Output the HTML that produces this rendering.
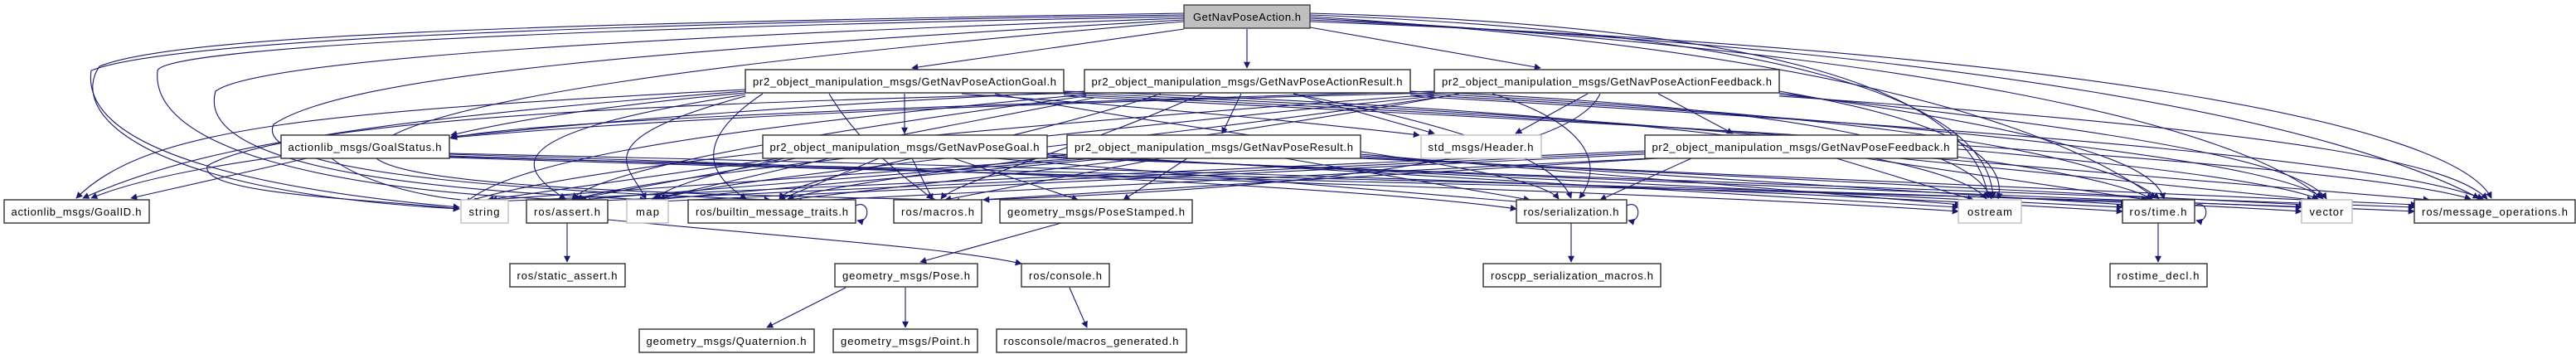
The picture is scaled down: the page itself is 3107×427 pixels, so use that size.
<!DOCTYPE html>
<html><head><meta charset="utf-8"><style>
html,body{margin:0;padding:0;background:#fff;}
svg{display:block;}
text{font-family:"Liberation Sans","DejaVu Sans",sans-serif;font-size:13px;fill:#000;}
</style></head><body>
<svg width="3107" height="427" viewBox="0 0 3107 427" xmlns="http://www.w3.org/2000/svg">
<defs>
<marker id="a" viewBox="0 0 10 10" refX="9" refY="5" markerWidth="10" markerHeight="8" markerUnits="userSpaceOnUse" orient="auto">
<path d="M0,0 L10,5 L0,10 z" fill="#191970"/></marker>
</defs>
<g fill="none" stroke="#191970" stroke-width="1.1" marker-end="url(#a)">
<!-- Action -->
<path d="M1428,35 L1100,82"/>
<path d="M1504,35 L1504,82"/>
<path d="M1580,33 L1858,82"/>
<path d="M1428,16 C700,28 220,40 120,80 C85,130 150,230 554,252"/>
<path d="M1428,18 C650,30 200,50 110,85 C95,190 350,232 554,250"/>
<path d="M1428,20 C600,35 200,60 190,85 C180,180 400,230 682,241"/>
<path d="M1428,22 C600,50 300,80 260,110 C230,215 600,232 779,241"/>
<path d="M1428,24 C800,60 420,90 330,150 C300,215 700,232 929,241"/>
<path d="M1428,26 C900,70 500,120 450,180 C430,230 900,235 1129,241"/>
<path d="M1580,16 C2100,30 2380,100 2398,239"/>
<path d="M1580,18 C2150,40 2400,120 2404,239"/>
<path d="M1580,20 C2200,60 2480,150 2600,239"/>
<path d="M1580,22 C2300,60 2700,150 2800,239"/>
<path d="M1580,24 C2400,60 2820,150 2990,239"/>
<path d="M1580,26 C2500,60 2960,150 3005,239"/>
<!-- ActionGoal -->
<path d="M1091,113 L1091,161"/>
<path d="M899,108 C400,135 180,150 92,239"/>
<path d="M899,112 C700,130 600,150 544,163"/>
<path d="M1160,113 C1400,130 1600,150 1712,163"/>
<path d="M899,110 C500,140 300,170 250,200 C240,235 450,240 554,252"/>
<path d="M899,114 C600,160 620,200 682,240"/>
<path d="M899,116 C700,170 760,200 779,240"/>
<path d="M920,113 C820,180 870,220 900,240"/>
<path d="M1000,113 C1040,180 1100,220 1125,240"/>
<path d="M1200,113 C1500,170 1850,200 1880,240"/>
<path d="M1283,110 C1900,130 2350,180 2396,240"/>
<path d="M1283,112 C2000,140 2500,190 2596,240"/>
<path d="M1283,114 C2100,150 2700,200 2796,240"/>
<path d="M1283,116 C2200,160 2850,200 2980,240"/>
<!-- ActionResult -->
<path d="M1497,113 L1474,161"/>
<path d="M1560,113 L1730,161"/>
<path d="M1310,110 C900,130 700,150 544,165"/>
<path d="M1310,112 C600,130 300,150 100,239"/>
<path d="M1310,114 C800,160 600,200 556,250"/>
<path d="M1310,116 C900,170 720,210 690,240"/>
<path d="M1320,118 C1000,180 820,210 790,240"/>
<path d="M1400,113 C1200,180 960,210 940,240"/>
<path d="M1450,113 C1300,180 1150,220 1135,240"/>
<path d="M1560,113 C1800,160 1880,200 1895,239"/>
<path d="M1701,110 C2200,130 2380,180 2402,240"/>
<path d="M1701,112 C2300,140 2550,190 2604,240"/>
<path d="M1701,114 C2400,150 2760,200 2802,240"/>
<path d="M1701,116 C2500,160 2900,200 2995,240"/>
<!-- ActionFeedback -->
<path d="M2000,113 L2090,161"/>
<path d="M1915,113 L1828,161"/>
<path d="M1930,113 C1890,200 1500,230 1186,241"/>
<path d="M1730,110 C1000,130 600,150 544,167"/>
<path d="M1730,112 C1000,130 300,160 110,239"/>
<path d="M1730,114 C1100,160 700,200 560,244"/>
<path d="M1730,116 C1200,170 800,210 695,240"/>
<path d="M1730,118 C1300,180 900,210 795,240"/>
<path d="M1760,113 C1400,180 1050,210 950,240"/>
<path d="M1800,113 C1950,160 1920,220 1905,239"/>
<path d="M2146,110 C2380,150 2420,200 2410,240"/>
<path d="M2146,112 C2500,160 2600,200 2610,240"/>
<path d="M2146,114 C2600,160 2780,200 2806,240"/>
<path d="M2146,116 C2800,160 2960,200 3000,240"/>
<!-- GoalStatus -->
<path d="M370,191 L158,239"/>
<path d="M400,191 C450,230 560,245 580,241"/>
<path d="M542,185 C1200,200 2000,220 2560,255"/>
<path d="M542,188 C1200,210 2000,230 2362,255"/>
<path d="M542,189 C1300,210 2400,230 2776,255"/>
<path d="M542,190 C1300,215 2500,235 2912,255"/>
<path d="M542,186 C1000,200 1600,220 1829,252"/>
<!-- Goal -->
<path d="M940,191 L588,241"/>
<path d="M960,191 L690,241"/>
<path d="M1000,191 L785,241"/>
<path d="M1060,191 L940,241"/>
<path d="M1100,191 L1125,241"/>
<path d="M1150,191 L1300,241"/>
<path d="M1200,191 L1840,244"/>
<path d="M1263,185 L2362,250"/>
<path d="M1263,187 L2560,250"/>
<path d="M1263,189 L2776,250"/>
<path d="M1263,190 L2912,250"/>
<!-- Result -->
<path d="M1300,191 L592,241"/>
<path d="M1320,191 L700,241"/>
<path d="M1340,191 L790,241"/>
<path d="M1380,191 L950,241"/>
<path d="M1400,191 L1140,241"/>
<path d="M1432,191 L1355,241"/>
<path d="M1550,191 L1845,241"/>
<path d="M1641,186 L2365,247"/>
<path d="M1641,188 L2565,247"/>
<path d="M1641,190 L2780,247"/>
<path d="M1641,191 L2915,247"/>
<!-- Feedback -->
<path d="M1984,182 L596,243"/>
<path d="M1984,184 L705,243"/>
<path d="M1984,186 L795,243"/>
<path d="M1990,191 L960,243"/>
<path d="M2000,191 L1150,243"/>
<path d="M2040,191 L1930,241"/>
<path d="M2215,191 L2380,241"/>
<path d="M2250,191 L2590,241"/>
<path d="M2290,191 L2790,241"/>
<path d="M2330,191 L2930,241"/>
<!-- lower -->
<path d="M684,269 L684,316"/>
<path d="M733,265 C1000,290 1150,300 1232,318"/>
<path d="M1280,269 L1110,316"/>
<path d="M1895,269 L1895,316"/>
<path d="M2603,269 L2603,316"/>
<path d="M1020,347 L925,395"/>
<path d="M1092,347 L1092,395"/>
<path d="M1290,347 L1311,395"/>
<path d="M1032,248 C1050,240 1050,270 1034,266"/>
<path d="M1962,248 C1980,240 1980,270 1964,266"/>
<path d="M2647,248 C2665,240 2665,270 2649,266"/>
</g>
<g stroke-width="1.4">
<rect x="1428" y="6" width="152" height="28" fill="#bfbfbf" stroke="#404040"/>
<g fill="#fff" stroke="#303030">
<rect x="899" y="84" width="384" height="28"/>
<rect x="1308" y="84" width="393" height="28"/>
<rect x="1730" y="84" width="416" height="28"/>
<rect x="339" y="163" width="203" height="28"/>
<rect x="920" y="163" width="343" height="28"/>
<rect x="1287" y="163" width="354" height="28"/>
<rect x="1984" y="163" width="377" height="28"/>
<rect x="5" y="241" width="175" height="28"/>
<rect x="635" y="241" width="98" height="28"/>
<rect x="830" y="241" width="202" height="28"/>
<rect x="1078" y="241" width="106" height="28"/>
<rect x="1206" y="241" width="232" height="28"/>
<rect x="1829" y="241" width="133" height="28"/>
<rect x="2560" y="241" width="87" height="28"/>
<rect x="2912" y="241" width="194" height="28"/>
<rect x="615" y="318" width="139" height="28"/>
<rect x="1007" y="318" width="172" height="28"/>
<rect x="1232" y="318" width="106" height="28"/>
<rect x="1789" y="318" width="214" height="28"/>
<rect x="2545" y="318" width="117" height="28"/>
<rect x="771" y="397" width="211" height="28"/>
<rect x="1005" y="397" width="174" height="28"/>
<rect x="1202" y="397" width="229" height="28"/>
</g>
<g fill="#fff" stroke="#bfbfbf">
<rect x="1714" y="163" width="145" height="28"/>
<rect x="556" y="241" width="57" height="28"/>
<rect x="756" y="241" width="50" height="28"/>
<rect x="2362" y="241" width="76" height="28"/>
<rect x="2776" y="241" width="61" height="28"/>
</g>
</g>
<g text-anchor="middle" lengthAdjust="spacingAndGlyphs">
<text x="1504" y="25" textLength="130">GetNavPoseAction.h</text>
<text x="1091" y="103" textLength="366">pr2_object_manipulation_msgs/GetNavPoseActionGoal.h</text>
<text x="1504" y="103" textLength="375">pr2_object_manipulation_msgs/GetNavPoseActionResult.h</text>
<text x="1938" y="103" textLength="398">pr2_object_manipulation_msgs/GetNavPoseActionFeedback.h</text>
<text x="440" y="182" textLength="185">actionlib_msgs/GoalStatus.h</text>
<text x="1091" y="182" textLength="325">pr2_object_manipulation_msgs/GetNavPoseGoal.h</text>
<text x="1464" y="182" textLength="336">pr2_object_manipulation_msgs/GetNavPoseResult.h</text>
<text x="1786" y="182" textLength="127">std_msgs/Header.h</text>
<text x="2172" y="182" textLength="359">pr2_object_manipulation_msgs/GetNavPoseFeedback.h</text>
<text x="92" y="260" textLength="157">actionlib_msgs/GoalID.h</text>
<text x="584" y="260" textLength="37">string</text>
<text x="684" y="260" textLength="80">ros/assert.h</text>
<text x="781" y="260" textLength="28">map</text>
<text x="931" y="260" textLength="184">ros/builtin_message_traits.h</text>
<text x="1131" y="260" textLength="88">ros/macros.h</text>
<text x="1322" y="260" textLength="214">geometry_msgs/PoseStamped.h</text>
<text x="1895" y="260" textLength="115">ros/serialization.h</text>
<text x="2400" y="260" textLength="54">ostream</text>
<text x="2603" y="260" textLength="69">ros/time.h</text>
<text x="2806" y="260" textLength="41">vector</text>
<text x="3009" y="260" textLength="176">ros/message_operations.h</text>
<text x="684" y="337" textLength="121">ros/static_assert.h</text>
<text x="1093" y="337" textLength="154">geometry_msgs/Pose.h</text>
<text x="1285" y="337" textLength="88">ros/console.h</text>
<text x="1896" y="337" textLength="196">roscpp_serialization_macros.h</text>
<text x="2603" y="337" textLength="99">rostime_decl.h</text>
<text x="876" y="416" textLength="193">geometry_msgs/Quaternion.h</text>
<text x="1092" y="416" textLength="156">geometry_msgs/Point.h</text>
<text x="1316" y="416" textLength="211">rosconsole/macros_generated.h</text>
</g>
</svg>
</body></html>
